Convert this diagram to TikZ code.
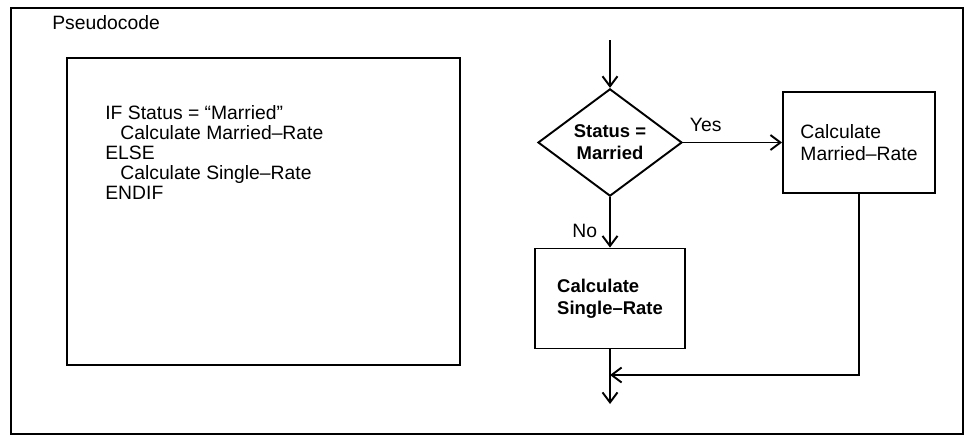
\documentclass[tikz,border=0pt]{standalone}
\usepackage{fontspec}
\setmainfont{Liberation Sans}
\usetikzlibrary{shapes.geometric, arrows.meta, positioning}
\tikzset{
    % Box styles - plain black outlines
    frame/.style={
        draw=black,
        line width=1.1pt
    },
    codetext/.style={
        align=left,
        inner sep=0pt,
        font=\fontsize{11}{11.4}\selectfont
    },
    procbox/.style={
        rectangle,
        draw=black,
        line width=1.1pt,
        minimum width=3cm,
        minimum height=2cm,
        align=left,
        font=\fontsize{11}{12.5}\selectfont
    },
    decision/.style={
        diamond,
        draw=black,
        line width=1.1pt,
        minimum width=2.88cm,
        minimum height=1.98cm,
        inner sep=0pt,
        align=center,
        font=\bfseries\fontsize{10.5}{12.5}\selectfont
    },
    flowlabel/.style={
        font=\fontsize{11}{13}\selectfont
    },
    % Arrow styles - open barbs
    arrow/.style={
        ->,
        >={Straight Barb[length=2mm,width=3mm]},
        line width=1.1pt,
        draw=black
    }
}
\begin{document}
\begin{tikzpicture}[x=0.02cm, y=-0.02cm]
    \useasboundingbox (0,0) rectangle (968,436);

    \draw[frame] (11,8) rectangle (963,434);
    \node[flowlabel, anchor=west, inner sep=0pt] (title) at (52,23) {Pseudocode};

    \draw[frame] (67,58) rectangle (460,365);
    \node[codetext, anchor=north west] (code) at (105,105) {IF Status = “Married”\\
        \hspace*{0.3cm}Calculate Married--Rate\\
        ELSE\\
        \hspace*{0.3cm}Calculate Single--Rate\\
        ENDIF};

    \coordinate (in) at (610,40);
    \node[decision] (dec) at (610,142.5) {Status =\\Married};

    \node[procbox, minimum width=3.04cm, minimum height=2.02cm] (mrate) at (859,142.5) {Calculate\\Married--Rate};

    \node[procbox, font=\bfseries\fontsize{10.5}{12.5}\selectfont] (srate) at (610,298.5) {Calculate\\Single--Rate};

    \coordinate (join) at (610,375);
    \coordinate (out) at (610,404);

    \draw[arrow] (in) -- (dec);
    \draw[arrow] (dec) -- node[flowlabel, above, pos=0.23, yshift=0.08cm] (yes) {Yes} (mrate);
    \draw[arrow] (dec) -- node[flowlabel, left, pos=0.68, xshift=-0.12cm] (no) {No} (srate);
    \draw[arrow] (mrate.south) |- (join);
    \draw[arrow] (srate) -- (out);
\end{tikzpicture}
\end{document}
